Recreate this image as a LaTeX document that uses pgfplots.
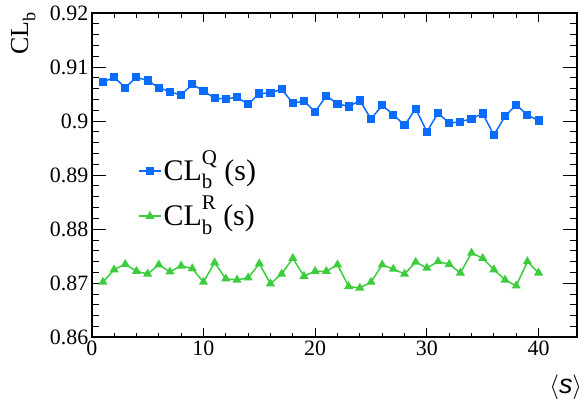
\documentclass[border=0pt]{standalone}
\usepackage{fontspec}
\setmainfont{Liberation Serif}
\newfontfamily\helv{Liberation Sans}
\usepackage{pgfplots}
\pgfplotsset{compat=1.18}
\definecolor{rootblue}{RGB}{10,108,255}
\definecolor{rootgreen}{RGB}{60,204,60}
% stacked sub- and superscript in text font
\newcommand\sbsp[2]{\makebox[0pt][l]{\raisebox{-0.28em}[0pt][0pt]{\scalebox{0.7}{#1}}}\raisebox{0.55em}[0pt][0pt]{\scalebox{0.7}{#2}}}

\begin{document}
\begin{tikzpicture}
\begin{axis}[
  scale only axis, width=485bp, height=324bp,
  xmin=0, xmax=43.44, ymin=0.86, ymax=0.92,
  xtick={0,10,20,30,40}, minor x tick num=4,
  ytick={0.86,0.87,0.88,0.89,0.9,0.91,0.92}, minor y tick num=4,
  xtick pos=both, ytick pos=both,
  xticklabel pos=lower, yticklabel pos=left,
  tick align=inside,
  axis line style={line width=1.6bp},
  every tick/.style={black, line width=0.8bp},
  xtick style={/pgfplots/major tick length=9bp, /pgfplots/minor tick length=4.5bp},
  ytick style={/pgfplots/major tick length=14bp, /pgfplots/minor tick length=7bp},
  ticklabel style={font=\fontsize{22}{24}\selectfont},
  /pgf/number format/assume math mode=true,
  yticklabel style={/pgf/number format/fixed, /pgf/number format/precision=2},
  legend style={draw=none, fill=none, at={(rel axis cs:0.089,0.56)}, anchor=north west,
    font=\fontsize{30}{32}\selectfont, row sep=19bp},
  legend cell align=left,
  legend image code/.code={\draw[mark repeat=2, mark phase=2, #1] plot coordinates {(0bp,0bp) (11bp,0bp) (22bp,0bp)};},
]
\addplot[rootblue, line width=1.5bp, mark=square*, mark size=3.3bp] coordinates {
  (1,0.9072) (2,0.9081) (3,0.9062) (4,0.9081) (5,0.9075) (6,0.9062) (7,0.9054) (8,0.9048)
  (9,0.9068) (10,0.9056) (11,0.9042) (12,0.9041) (13,0.9044) (14,0.9031) (15,0.9051) (16,0.9052)
  (17,0.9059) (18,0.9033) (19,0.9037) (20,0.9017) (21,0.9047) (22,0.9032) (23,0.9027) (24,0.9038)
  (25,0.9004) (26,0.9029) (27,0.9012) (28,0.8992) (29,0.9023) (30,0.8980) (31,0.9015) (32,0.8996)
  (33,0.8999) (34,0.9004) (35,0.9014) (36,0.8974) (37,0.9009) (38,0.9030) (39,0.9011) (40,0.9001)
};
\addlegendentry{CL\sbsp{b}{Q} (s)}
\addplot[rootgreen, line width=1.5bp, mark=triangle*, mark size=3.8bp] coordinates {
  (1,0.8702) (2,0.8725) (3,0.8735) (4,0.8722) (5,0.8717) (6,0.8734) (7,0.8721) (8,0.8732)
  (9,0.8727) (10,0.8702) (11,0.8738) (12,0.8708) (13,0.8706) (14,0.8710) (15,0.8736) (16,0.8699)
  (17,0.8717) (18,0.8746) (19,0.8713) (20,0.8722) (21,0.8722) (22,0.8734) (23,0.8694) (24,0.8691)
  (25,0.8702) (26,0.8734) (27,0.8726) (28,0.8717) (29,0.8739) (30,0.8728) (31,0.8740) (32,0.8735)
  (33,0.8719) (34,0.8756) (35,0.8746) (36,0.8725) (37,0.8706) (38,0.8695) (39,0.8740) (40,0.8719)
};
\addlegendentry{CL\sbsp{b}{R} (s)}
\coordinate (sw) at (rel axis cs:0,0);
\coordinate (se) at (rel axis cs:1,0);
\coordinate (nw) at (rel axis cs:0,1);
\coordinate (ne) at (rel axis cs:1,1);
\end{axis}
\node[rotate=90, anchor=base west, inner sep=0pt]
  at ([shift={(-63.7bp,-42bp)}]nw) {\fontsize{26}{28}\selectfont CL\raisebox{-0.28em}{\scalebox{0.7}{b}}};
\node[anchor=base east, inner sep=0pt]
  at ([shift={(5.3bp,-56bp)}]se) {\fontsize{27}{29}\selectfont$\langle$\helv\itshape s\/$\rangle$};
\pgfresetboundingbox
\path ([shift={(-91.7bp,-69bp)}]sw) rectangle ([shift={(8bp,13bp)}]ne);
\end{tikzpicture}
\end{document}
